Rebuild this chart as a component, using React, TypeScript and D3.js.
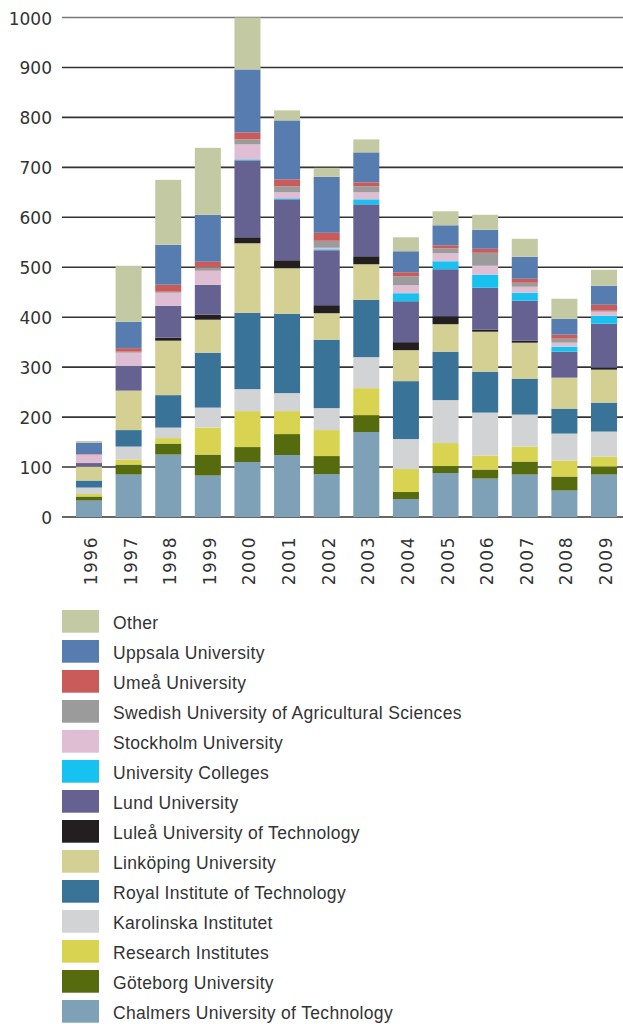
import React from 'react';
import * as d3 from 'd3';

const years = ['1996', '1997', '1998', '1999', '2000', '2001', '2002', '2003', '2004', '2005', '2006', '2007', '2008', '2009'];

// stacking order, bottom to top
const seriesNames = [
  'Chalmers University of Technology',
  'Göteborg University',
  'Research Institutes',
  'Karolinska Institutet',
  'Royal Institute of Technology',
  'Linköping University',
  'Luleå University of Technology',
  'Lund University',
  'University Colleges',
  'Stockholm University',
  'Swedish University of Agricultural Sciences',
  'Umeå University',
  'Uppsala University',
  'Other',
];

const seriesColors = [
  '#7ea1b8', '#566a0e', '#d8d452', '#d2d3d5', '#3a7398', '#d4cf93', '#231f20',
  '#656190', '#17c2f1', '#dfbed3', '#9b9b9b', '#c95c5a', '#577cb0', '#c3caa3',
];

const chalmers = [33, 85, 125, 83, 110, 124, 86, 170, 36, 88, 77, 85, 53, 85];
const goteborg = [8, 20, 22, 42, 30, 42, 36, 34, 14, 14, 18, 26, 28, 16];
const research = [5, 10, 11, 54, 72, 46, 52, 54, 46, 46, 28, 30, 32, 20];
const karolinska = [13, 26, 21, 40, 44, 36, 44, 62, 60, 86, 86, 64, 54, 50];
const royal = [14, 33, 65, 110, 153, 159, 137, 115, 116, 97, 82, 72, 50, 58];
const linkoping = [28, 79, 109, 66, 139, 91, 53, 71, 62, 55, 80, 72, 62, 66];
const lulea = [0, 0, 6, 10, 12, 16, 16, 16, 16, 16, 4, 4, 0, 4];
const lund = [7, 50, 64, 60, 154, 122, 110, 104, 82, 94, 84, 80, 52, 88];
const colleges = [0, 0, 0, 0, 2, 2, 2, 10, 16, 16, 26, 16, 10, 16];
const stockholm = [17, 26, 26, 28, 30, 12, 3, 14, 16, 16, 18, 12, 8, 8];
const slu = [0, 2, 2, 7, 10, 12, 14, 12, 18, 10, 26, 8, 8, 2];
const umea = [1, 7, 14, 11, 14, 14, 16, 8, 8, 6, 8, 8, 8, 12];
const uppsala = [23, 53, 80, 94, 126, 118, 112, 60, 42, 40, 38, 44, 32, 38];
const other = [3, 112, 130, 134, 104, 20, 18, 26, 28, 28, 30, 36, 40, 32];

const seriesValues = [
  chalmers, goteborg, research, karolinska, royal, linkoping, lulea,
  lund, colleges, stockholm, slu, umea, uppsala, other,
];

const yTicks = [0, 100, 200, 300, 400, 500, 600, 700, 800, 900, 1000];

export default function App() {
  const width = 623;
  const height = 1024;

  const x = d3.scaleBand<string>()
    .domain(years)
    .range([62.5, 630.5])
    .paddingInner(0.343)
    .paddingOuter(0.34);

  const y = d3.scaleLinear().domain([0, 1000]).range([517, 17.5]);

  // one row per year for d3.stack
  const table = years.map((yr, i) => {
    const row: Record<string, any> = { year: yr };
    seriesNames.forEach((name, s) => { row[name] = seriesValues[s][i]; });
    return row;
  });
  const stacked = d3.stack<Record<string, any>>().keys(seriesNames)(table);

  const legendOrder = seriesNames.map((_, i) => i).reverse();

  return (
    <svg width={width} height={height} style={{ position: 'absolute', left: 0, top: 0 }}>
      {/* gridlines */}
      {yTicks.map(t => (
        <g key={t}>
          <line x1={62} x2={623} y1={y(t)} y2={y(t)}
            stroke={t === 1000 ? '#777' : '#333'} strokeWidth={1.6} />
          <text x={52} y={y(t) + 7} textAnchor="end" fontFamily="DejaVu Sans, sans-serif"
            fontSize={17} fill="#333">{t}</text>
        </g>
      ))}

      {/* stacked bars */}
      {stacked.map((layer, s) => (
        <g key={layer.key} fill={seriesColors[s]}>
          {layer.map((d, i) => {
            const h = y(d[0]) - y(d[1]);
            if (h <= 0) return null;
            return <rect key={i} x={x(years[i])} y={y(d[1])} width={x.bandwidth()} height={h} />;
          })}
        </g>
      ))}

      {/* year labels */}
      {years.map(yr => (
        <text key={yr} transform={`translate(${(x(yr) || 0) + x.bandwidth() / 2 + 8}, 536) rotate(-90)`}
          textAnchor="end" fontFamily="DejaVu Sans, sans-serif" fontSize={17} letterSpacing={1.5}
          fill="#333">{yr}</text>
      ))}

      {/* legend */}
      {legendOrder.map((s, k) => (
        <g key={seriesNames[s]} transform={`translate(62, ${610 + k * 30})`}>
          <rect width={37} height={22.7} fill={seriesColors[s]} />
          <text x={51} y={19} fontFamily="Liberation Sans, Arial, sans-serif" fontSize={17.5}
            letterSpacing={0.33} fill="#333">
            {seriesNames[s]}
          </text>
        </g>
      ))}
    </svg>
  );
}
